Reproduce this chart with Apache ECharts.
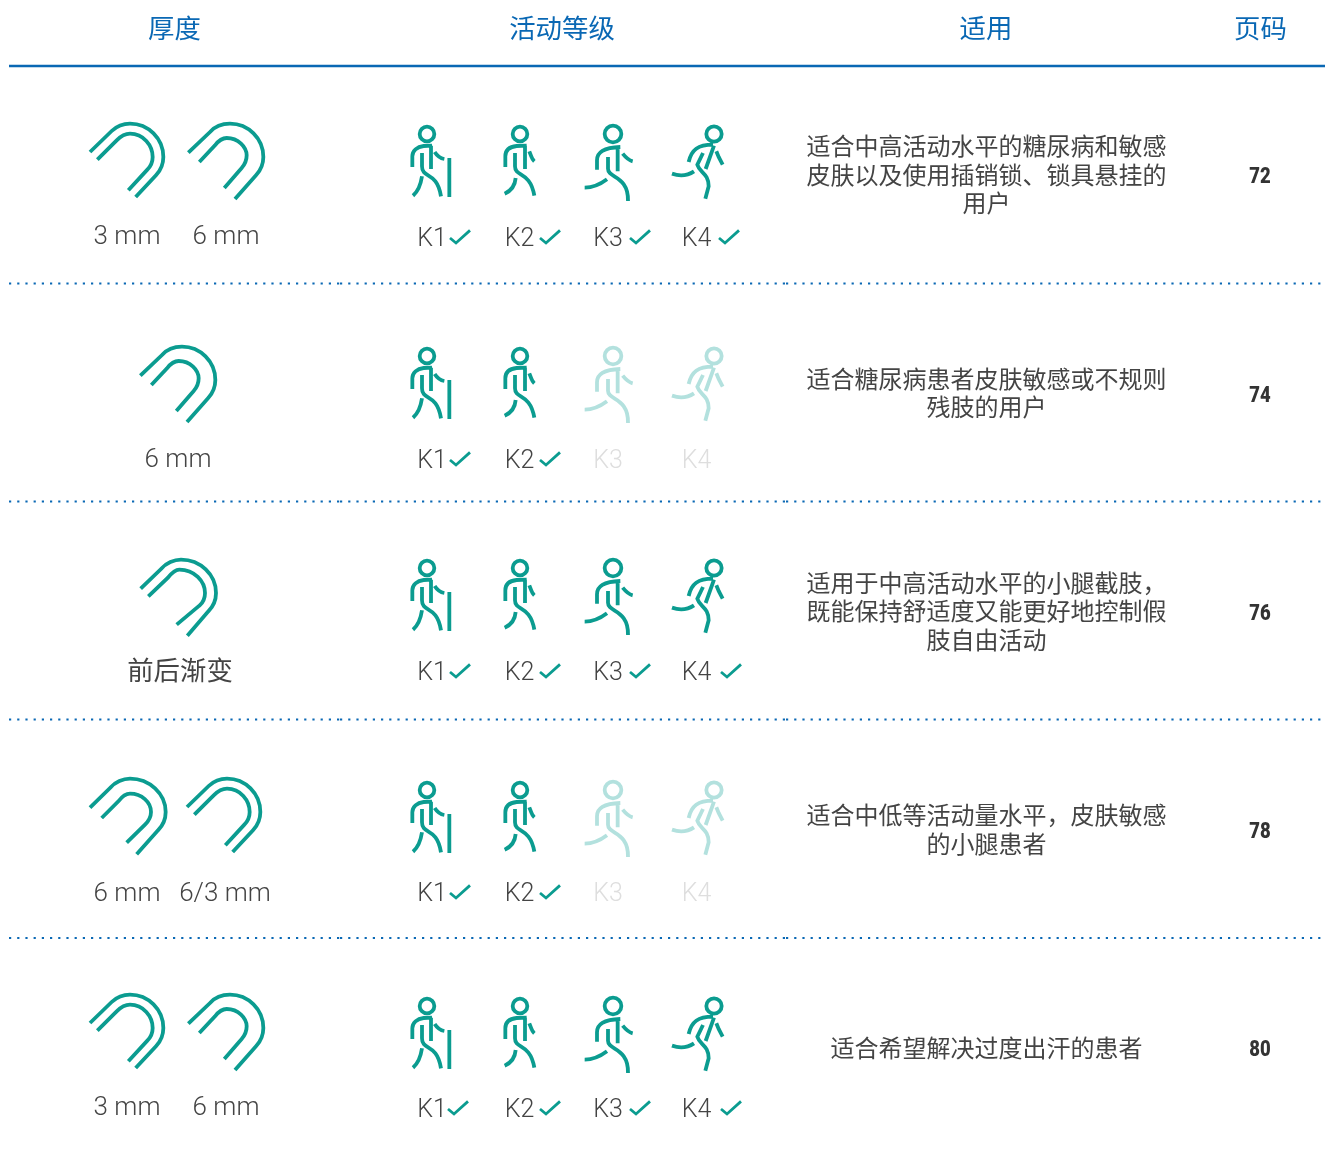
<!DOCTYPE html>
<html lang="zh" style="height: 100%">
<head>
  <meta charset="utf-8">
</head>
<body style="height: 100%; margin: 0; background: #fff">
  <div id="container" style="width: 1325px; height: 1153px"></div>

  <script type="text/javascript" src="https://cdn.jsdelivr.net/npm/echarts@6/dist/echarts.min.js"></script>
  <script type="text/javascript">
    // table content
    const columnTitles = ['厚度', '活动等级', '适用', '页码'];
    const thicknessLabels = [
      ['3 mm', '6 mm'],
      ['6 mm'],
      ['前后渐变'],
      ['6 mm', '6/3 mm'],
      ['3 mm', '6 mm']
    ];
    const profileKinds = [
      ['thin', 'thick'],
      ['thick'],
      ['grad'],
      ['wide', 'thin'],
      ['thin', 'thick']
    ];
    const levelNames = ['K1', 'K2', 'K3', 'K4'];
    const levelActive = [
      [true, true, true, true],
      [true, true, false, false],
      [true, true, true, true],
      [true, true, false, false],
      [true, true, true, true]
    ];
    const usageLines = [
      ['适合中高活动水平的糖尿病和敏感', '皮肤以及使用插销锁、锁具悬挂的', '用户'],
      ['适合糖尿病患者皮肤敏感或不规则', '残肢的用户'],
      ['适用于中高活动水平的小腿截肢，', '既能保持舒适度又能更好地控制假', '肢自由活动'],
      ['适合中低等活动量水平，皮肤敏感', '的小腿患者'],
      ['适合希望解决过度出汗的患者']
    ];
    const pageNumbers = ['72', '74', '76', '78', '80'];

    // layout, in page pixels
    const titleX = [174.5, 562, 986, 1260.5];
    const titleY = 27.5;
    const headerRuleY = 66;
    const dottedRuleY = [283.5, 501.5, 719.5, 938];
    const columnEdges = [9, 340, 786, 1187, 1325];
    const profileX = [[130, 230], [182], [181], [130, 227], [130, 230]];
    const profileY = [157, 380, 593, 812, 1028];
    const thicknessX = [[127, 226], [178], [180], [127, 225], [127, 226]];
    const thicknessY = [237, 460, 670, 894, 1108];
    const walkerX = [427, 520, 613, 714];
    const walkerY = [134, 356, 568, 790, 1006];
    const levelX = [432, 519.5, 608, 696.5];
    const levelY = [239.5, 461.5, 673.5, 894.5, 1110.5];
    const checkX = [
      [450, 540, 630, 719],
      [450, 540, 630, 719],
      [450, 540, 630, 721],
      [450, 540, 630, 719],
      [448, 540, 630, 721]
    ];
    const checkY = [238, 460, 672, 893, 1109];
    const usageX = 986.5;
    const usageY = [[146, 175, 203], [379, 407], [583, 611, 640], [815, 844], [1048]];
    const pageX = 1260;
    const pageY = [177.5, 396.5, 614.5, 832.5, 1050.5];

    const BLUE = '#0a68b4';
    const TEAL = '#0b9c90';
    const TEAL_OFF = '#b3e1de';
    const TEXT = '#444444';
    const TEXT_OFF = '#dedede';
    const CJK = '"Noto Sans CJK SC"';
    const LATIN = 'Roboto';

    // icon outlines, 3 units per pixel, origin at the icon's anchor
    const profilePaths = {
      thin: 'M-120 -15L-55 -78C-40 -92 -20 -100 0 -100C55 -100 100 -55 100 0C100 20 90 42 78 55L17 120' +
        'M-98 8L-40 -50C-30 -60 -15 -70 0 -70C40 -70 68 -35 68 0C68 15 60 30 52 38L-5 100',
      thick: 'M-125 -13L-60 -75C-45 -92 -25 -100 0 -100C55 -100 100 -55 100 0C100 20 90 42 78 55L15 126' +
        'M-92 15L-45 -35C-35 -48 -25 -57 -10 -57C25 -57 50 -30 50 -5C50 10 45 22 35 33L-17 93',
      grad: 'M-121 -13L-60 -72C-45 -90 -20 -100 0 -100C58 -100 105 -55 105 0C105 22 95 42 82 55L19 128' +
        'M-98 10L-40 -45C-28 -60 -15 -70 -5 -70C40 -70 72 -35 72 0C72 15 65 30 55 38L-13 95',
      wide: 'M-120 -13L-60 -72C-45 -90 -20 -100 0 -100C58 -100 107 -55 107 0C107 22 97 42 84 55L20 127' +
        'M-85 18L-35 -32C-25 -45 -12 -55 0 -55C35 -55 63 -30 63 0C63 15 55 28 45 38L-10 92'
    };
    const walkerPaths = [
      'M22 0A22 22 0 1 1 -22 0A22 22 0 1 1 22 0' +
        'M-44 99V67C-44 50 -30 38 -10 36L15 35M12 35V105' +
        'M-15 57V97C-15 135 30 110 42 187M-15 127C-20 160 -30 175 -42 185' +
        'M23 54C30 65 40 73 52 75M67 72V189',
      'M22 0A22 22 0 1 1 -22 0A22 22 0 1 1 22 0' +
        'M-44 99V67C-44 48 -30 38 -10 36L20 35M15 35V105' +
        'M-15 57V97C-15 130 30 110 43 185M-13 132C-15 157 -30 172 -46 179' +
        'M28 52C32 62 35 75 43 82',
      'M25 0A25 25 0 1 1 -25 0A25 25 0 1 1 25 0' +
        'M-48 107V79C-48 54 -28 41 22 39M14 39V112' +
        'M-15 69V104C-15 134 47 124 45 201M-18 136C-38 151 -58 161 -85 161' +
        'M29 59C37 69 47 79 59 82',
      'M23 0A23 23 0 1 1 -23 0A23 23 0 1 1 23 0' +
        'M-76 84C-68 47 -48 32 -3 32M0 35L-25 105' +
        'M-33 57L-50 92C-43 117 -16 117 -16 157L-26 194' +
        'M-60 112C-78 124 -103 127 -126 119M7 52L14 69L26 92'
    ];
    const checkPath = 'M0 0L6 5L20 -7.6';

    // every icon path gets the same box, so scaling it into 100x150 is a plain 1:3
    function icon(d, cx, cy, color, width) {
      return {
        type: 'path',
        shape: {
          pathData: 'M-150 -150M150 300' + d,
          layout: 'cover',
          x: cx - 50,
          y: cy - 50,
          width: 100,
          height: 150
        },
        style: { fill: 'none', stroke: color, lineWidth: width }
      };
    }

    function textEl(text, x, y, font, color, squeeze) {
      return {
        type: 'text',
        x: x,
        y: y,
        scaleX: squeeze || 1,
        style: { text: text, x: 0, y: 0, font: font, fill: color, textAlign: 'center', textVerticalAlign: 'middle' }
      };
    }

    const ruleData = [];
    const profileData = [];
    const walkerData = [];
    const checkData = [];
    const textData = [];

    columnEdges.slice(0, -1).forEach(function (x0, c) {
      ruleData.push([x0, headerRuleY, columnEdges[c + 1], 0]);
      dottedRuleY.forEach(function (y) {
        ruleData.push([x0, y, columnEdges[c + 1], 1]);
      });
    });
    columnTitles.forEach(function (t, c) {
      textData.push({ value: [titleX[c], titleY], text: t, font: '26.4px ' + CJK, color: BLUE });
    });
    thicknessLabels.forEach(function (labels, r) {
      labels.forEach(function (t, i) {
        const isCjk = /[^\x00-\x7f]/.test(t);
        textData.push({
          value: [thicknessX[r][i], thicknessY[r]],
          text: t,
          font: isCjk ? '26.4px ' + CJK : '300 26px ' + LATIN,
          color: TEXT
        });
        profileData.push({ value: [profileX[r][i], profileY[r]], kind: profileKinds[r][i] });
      });
      levelNames.forEach(function (name, c) {
        const on = levelActive[r][c];
        walkerData.push({ value: [walkerX[c], walkerY[r]], level: c, on: on });
        textData.push({
          value: [levelX[c], levelY[r]],
          text: name,
          font: '300 25px ' + LATIN,
          color: on ? TEXT : TEXT_OFF
        });
        if (on) {
          checkData.push({ value: [checkX[r][c], checkY[r]] });
        }
      });
      usageLines[r].forEach(function (t, i) {
        textData.push({ value: [usageX, usageY[r][i]], text: t, font: '24px ' + CJK, color: TEXT });
      });
      // page numbers are a condensed heavy face in the original
      textData.push({ value: [pageX, pageY[r]], text: pageNumbers[r], font: '900 22px ' + LATIN, color: '#333333', squeeze: 0.84 });
    });

    var dom = document.getElementById('container');
    var myChart = echarts.init(dom, null, { renderer: 'canvas' });

    var option = {
      animation: false,
      backgroundColor: '#ffffff',
      grid: { left: 0, right: 0, top: 0, bottom: 0 },
      xAxis: { type: 'value', min: 0, max: 1325, show: false },
      yAxis: { type: 'value', min: 0, max: 1153, inverse: true, show: false },
      series: [
        {
          type: 'custom',
          silent: true,
          clip: false,
          data: ruleData,
          renderItem: function (params, api) {
            const a = api.coord([api.value(0), api.value(1)]);
            const b = api.coord([api.value(2), api.value(1)]);
            const dotted = api.value(3) === 1;
            return {
              type: 'line',
              shape: { x1: a[0], y1: a[1], x2: b[0], y2: b[1] },
              style: {
                stroke: BLUE,
                lineWidth: dotted ? 2.2 : 2.6,
                lineDash: dotted ? [2.2, 6] : null
              }
            };
          }
        },
        {
          type: 'custom',
          silent: true,
          clip: false,
          data: profileData,
          renderItem: function (params, api) {
            const p = api.coord([api.value(0), api.value(1)]);
            return icon(profilePaths[profileData[params.dataIndex].kind], p[0], p[1], TEAL, 3.8);
          }
        },
        {
          type: 'custom',
          silent: true,
          clip: false,
          data: walkerData,
          renderItem: function (params, api) {
            const p = api.coord([api.value(0), api.value(1)]);
            const w = walkerData[params.dataIndex];
            return icon(walkerPaths[w.level], p[0], p[1], w.on ? TEAL : TEAL_OFF, 3.8);
          }
        },
        {
          type: 'custom',
          silent: true,
          clip: false,
          data: checkData,
          renderItem: function (params, api) {
            const p = api.coord([api.value(0), api.value(1)]);
            return {
              type: 'path',
              shape: { pathData: 'M0 0M20 -7.6' + checkPath, layout: 'cover', x: p[0], y: p[1] - 7.6, width: 20, height: 12.6 },
              style: { fill: 'none', stroke: TEAL, lineWidth: 2.8 }
            };
          }
        },
        {
          type: 'custom',
          silent: true,
          clip: false,
          data: textData,
          renderItem: function (params, api) {
            const t = textData[params.dataIndex];
            const p = api.coord([api.value(0), api.value(1)]);
            return textEl(t.text, p[0], p[1], t.font, t.color, t.squeeze);
          }
        }
      ]
    };

    myChart.setOption(option);
    window.addEventListener('resize', myChart.resize);
  </script>
</body>
</html>
